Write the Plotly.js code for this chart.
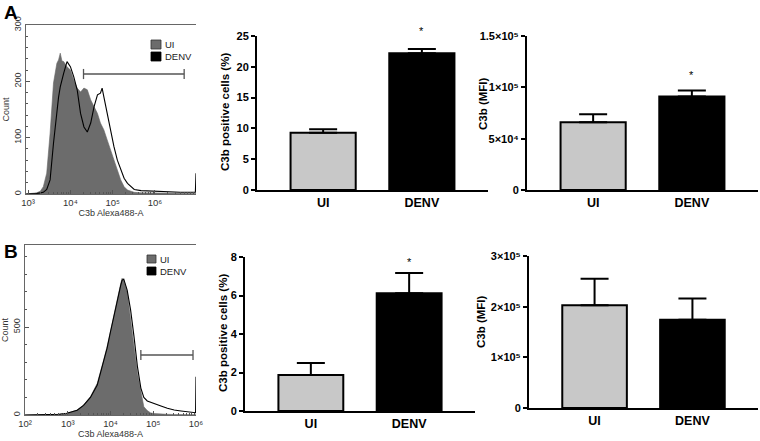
<!DOCTYPE html>
<html><head><meta charset="utf-8">
<script src="https://cdn.plot.ly/plotly-3.0.1.min.js"></script>
<style>html,body{margin:0;padding:0;background:#fff}#g{width:760px;height:441px}</style>
</head><body><div id="g"></div>
<script>
// ---- data ----
var categories = ['UI', 'DENV'];
var pctA = [9.3, 22.2];
var pctAerr = [0.55, 0.7];
var mfiA = [66000, 91000];
var mfiAerr = [7800, 5800];
var pctB = [1.87, 6.12];
var pctBerr = [0.62, 1.05];
var mfiB = [203000, 174000];
var mfiBerr = [52000, 42000];
var barColors = ['#c8c8c8', '#000000'];
var mfiAticks = [0, 50000, 100000, 150000];
var mfiAlabels = ['0', '5×10⁴', '1×10⁵', '1.5×10⁵'];
var mfiBticks = [0, 100000, 200000, 300000];
var mfiBlabels = ['0', '1×10⁵', '2×10⁵', '3×10⁵'];

// histogram A (log10 of fluorescence, counts)
var histAlog = [2.95,3.1,3.2,3.29,3.36,3.44,3.52,3.60,3.68,3.72,3.76,3.80,3.84,3.92,4.00,4.08,4.16,4.24,4.32,4.40,4.48,4.56,4.64,4.71,4.75,4.79,4.87,4.95,5.03,5.11,5.19,5.27,5.35,5.43,5.51,5.67,5.90,6.30,6.60,6.93,6.955,6.97];
var histAui  = [0,1,2,5,13,37,108,197,232,238,250,236,235,226,220,202,188,181,188,185,167,155,143,126,120,114,96,78,60,43,25,13,7,5,3,2,2,1,1,1,1,1];
var histAdenv= [0,0,1,2,3,8,25,90,149,172,190,205,214,235,226,208,185,143,119,110,126,155,176,179,188,173,143,114,84,60,43,28,19,13,8,6,5,3,3,3,3,37];
// histogram B
var histBlog = [2.0,2.3,2.59,2.8,2.98,3.1,3.22,3.37,3.53,3.69,3.76,3.84,3.92,4.00,4.08,4.16,4.24,4.27,4.31,4.39,4.47,4.55,4.63,4.71,4.78,4.86,4.94,5.02,5.10,5.18,5.33,5.49,5.65,5.80,5.96,5.99,6.0];
var histBui  = [0,0,1,4,10,18,28,57,104,180,237,313,388,483,578,672,748,777,767,700,558,388,237,124,47,25,12,8,6,5,4,3,2,2,2,2,2];
var histBdenv= [0,0,1,4,10,17,27,55,100,170,230,305,380,473,565,660,738,765,772,710,597,445,275,153,100,80,72,67,58,51,38,28,23,19,13,13,218];
// gates (log10 start, log10 end, count level)
var gateA = [4.31, 6.69, 213];
var gateB = [4.71, 5.93, 341];

var histTicksA = [3,4,5,6];
var histTicksB = [2,3,4,5,6];
var supDigits = {2:'²', 3:'³', 4:'⁴', 5:'⁵', 6:'⁶'};

// ---- helpers ----
function pw(a){ return a.map(function(v){ return Math.pow(10, v); }); }
function gateTrace(g, xa, ya, h){
  var a = Math.pow(10, g[0]), b = Math.pow(10, g[1]);
  return {type:'scatter', mode:'lines', xaxis:xa, yaxis:ya, hoverinfo:'skip', showlegend:false,
    x:[a,a,null,a,b,null,b,b], y:[g[2]-h,g[2]+h,null,g[2],g[2],null,g[2]-h,g[2]+h],
    line:{color:'#555', width:1.3}};
}
var W = 760, H = 441;
function dx(a,b){ return [a/W, b/W]; }
function dy(top,bot){ return [1-bot/H, 1-top/H]; }

var FONT = 'Liberation Sans, Arial, DejaVu Sans, sans-serif';
var traces = [];
// hist A
traces.push({type:'scatter', mode:'lines', x:pw(histAlog), y:histAui, xaxis:'x', yaxis:'y',
  fill:'tozeroy', fillcolor:'#6c6c6c', line:{color:'#666', width:0.6}, showlegend:false, hoverinfo:'skip'});
traces.push({type:'scatter', mode:'lines', x:pw(histAlog), y:histAdenv, xaxis:'x', yaxis:'y',
  line:{color:'#000', width:1.1}, showlegend:false, hoverinfo:'skip'});
traces.push(gateTrace(gateA, 'x', 'y', 9));
// hist B
traces.push({type:'scatter', mode:'lines', x:pw(histBlog), y:histBui, xaxis:'x4', yaxis:'y4',
  fill:'tozeroy', fillcolor:'#6c6c6c', line:{color:'#666', width:0.6}, showlegend:false, hoverinfo:'skip'});
traces.push({type:'scatter', mode:'lines', x:pw(histBlog), y:histBdenv, xaxis:'x4', yaxis:'y4',
  line:{color:'#000', width:1.1}, showlegend:false, hoverinfo:'skip'});
traces.push(gateTrace(gateB, 'x4', 'y4', 28));

function barTrace(vals, errs, xa, ya){
  return {type:'bar', x:categories, y:vals, xaxis:xa, yaxis:ya, width:[0.66,0.66],
    marker:{color:barColors, line:{color:'#000', width:2}},
    error_y:{type:'data', symmetric:false, array:errs, arrayminus:[0,0], color:'#000', thickness:2, width:14},
    showlegend:false, hoverinfo:'skip'};
}
traces.push(barTrace(pctA, pctAerr, 'x2', 'y2'));
traces.push(barTrace(mfiA, mfiAerr, 'x3', 'y3'));
traces.push(barTrace(pctB, pctBerr, 'x5', 'y5'));
traces.push(barTrace(mfiB, mfiBerr, 'x6', 'y6'));

function histX(domain, range, ticks, anchor){
  return {type:'log', domain:domain, range:range, anchor:anchor,
    tickmode:'array', tickvals:pw(ticks), ticktext:ticks.map(function(t){return '10' + supDigits[t];}),
    ticks:'inside', ticklen:4, tickcolor:'#555', tickwidth:1,
    minor:{ticks:'inside', ticklen:2, tickcolor:'#555', dtick:'D1', showgrid:false},
    showline:true, linecolor:'#666', linewidth:1, mirror:true, showgrid:false, zeroline:false,
    tickfont:{family:FONT, size:9.5, color:'#333'},
    title:{text:'C3b Alexa488-A', font:{family:FONT, size:9, color:'#333'}, standoff:2}};
}
function histY(domain, range, dt, mdt, anchor){
  return {domain:domain, range:range, anchor:anchor, dtick:dt, tick0:0, tickangle:-90,
    ticks:'inside', ticklen:4, tickcolor:'#555',
    minor:{ticks:'inside', ticklen:2, tickcolor:'#555', dtick:mdt, showgrid:false},
    showline:true, linecolor:'#666', linewidth:1, showgrid:false, zeroline:false,
    tickfont:{family:FONT, size:9, color:'#333'},
    title:{text:'Count', font:{family:FONT, size:9, color:'#333'}, standoff:2}};
}
function barX(domain, anchor){
  return {type:'category', domain:domain, range:[-0.67, 1.67], anchor:anchor,
    showline:true, linecolor:'#000', linewidth:2, ticks:'', showgrid:false, zeroline:false,
    tickfont:{family:FONT, size:12.5, color:'#000', weight:'bold'}};
}
function barY(domain, range, tv, tt, anchor){
  return {domain:domain, range:range, anchor:anchor,
    showline:true, linecolor:'#000', linewidth:2, ticks:'outside', ticklen:4, tickwidth:2, tickcolor:'#000',
    showgrid:false, zeroline:false, tickmode:'array', tickvals:tv, ticktext:tt,
    tickfont:{family:FONT, size:11, color:'#000', weight:'bold'}};
}
function yTitle(text, xpx, ypx){
  return {xref:'paper', yref:'paper', x:xpx/W, y:1-ypx/H, xanchor:'center', yanchor:'middle',
    textangle:-90, text:text, showarrow:false, font:{family:FONT, size:11.5, color:'#000', weight:'bold'}};
}
function note(text, xpx, ypx, size, color, anchor, weight){
  return {xref:'paper', yref:'paper', x:xpx/W, y:1-ypx/H, xanchor:anchor||'left', yanchor:'middle',
    text:text, showarrow:false, font:{family:FONT, size:size, color:color, weight:weight||'normal'}};
}

var layout = {
  width:W, height:H, margin:{l:0,r:0,t:0,b:0}, paper_bgcolor:'#fff', plot_bgcolor:'rgba(0,0,0,0)',
  showlegend:false,
  xaxis: histX(dx(26,196), [2.95, 6.97], histTicksA, 'y'),
  yaxis: histY(dy(25,194), [0,300], 100, 20, 'x'),
  xaxis4: histX(dx(25,196), [2.0, 6.0], histTicksB, 'y4'),
  yaxis4: histY(dy(245,415), [0,966], 500, 100, 'x4'),
  xaxis2: barX(dx(257,488), 'y2'),
  yaxis2: barY(dy(36,190), [0,25], [0,5,10,15,20,25], ['0','5','10','15','20','25'], 'x2'),
  xaxis3: barX(dx(527,758), 'y3'),
  yaxis3: barY(dy(36,190), [0,150000], mfiAticks, mfiAlabels, 'x3'),
  xaxis5: barX(dx(245,475), 'y5'),
  yaxis5: barY(dy(257,411), [0,8], [0,2,4,6,8], ['0','2','4','6','8'], 'x5'),
  xaxis6: barX(dx(529,758), 'y6'),
  yaxis6: barY(dy(256,408), [0,300000], mfiBticks, mfiBlabels, 'x6'),
  shapes: [
    {type:'rect', xref:'paper', yref:'paper', x0:151/W, x1:161/W, y0:1-49/H, y1:1-40/H, fillcolor:'#6c6c6c', line:{color:'#333', width:0.8}},
    {type:'rect', xref:'paper', yref:'paper', x0:151/W, x1:161/W, y0:1-61/H, y1:1-52/H, fillcolor:'#000', line:{color:'#000', width:0.8}},
    {type:'rect', xref:'paper', yref:'paper', x0:147/W, x1:156/W, y0:1-263/H, y1:1-255/H, fillcolor:'#6c6c6c', line:{color:'#333', width:0.8}},
    {type:'rect', xref:'paper', yref:'paper', x0:147/W, x1:156/W, y0:1-275/H, y1:1-267/H, fillcolor:'#000', line:{color:'#000', width:0.8}}
  ],
  annotations: [
    note('A', 2, 12, 19, '#000', 'left', 'bold'),
    note('B', 2, 251, 19, '#000', 'left', 'bold'),
    note('UI', 163, 44.5, 9.5, '#222'),
    note('DENV', 163, 56.5, 9.5, '#222'),
    note('UI', 158, 259, 9.5, '#222'),
    note('DENV', 158, 271, 9.5, '#222'),
    yTitle('C3b positive cells (%)', 225, 112),
    yTitle('C3b (MFI)', 483, 104),
    yTitle('C3b positive cells (%)', 223, 333),
    yTitle('C3b (MFI)', 481, 322),
    {xref:'x2', yref:'y2', x:'DENV', y:25, yshift:5, text:'*', showarrow:false, font:{family:FONT, size:11, color:'#000'}},
    {xref:'x3', yref:'y3', x:'DENV', y:112000, text:'*', showarrow:false, font:{family:FONT, size:11, color:'#000'}},
    {xref:'x5', yref:'y5', x:'DENV', y:7.74, text:'*', showarrow:false, font:{family:FONT, size:11, color:'#000'}}
  ]
};
Plotly.newPlot('g', traces, layout, {displayModeBar:false});
</script></body></html>
